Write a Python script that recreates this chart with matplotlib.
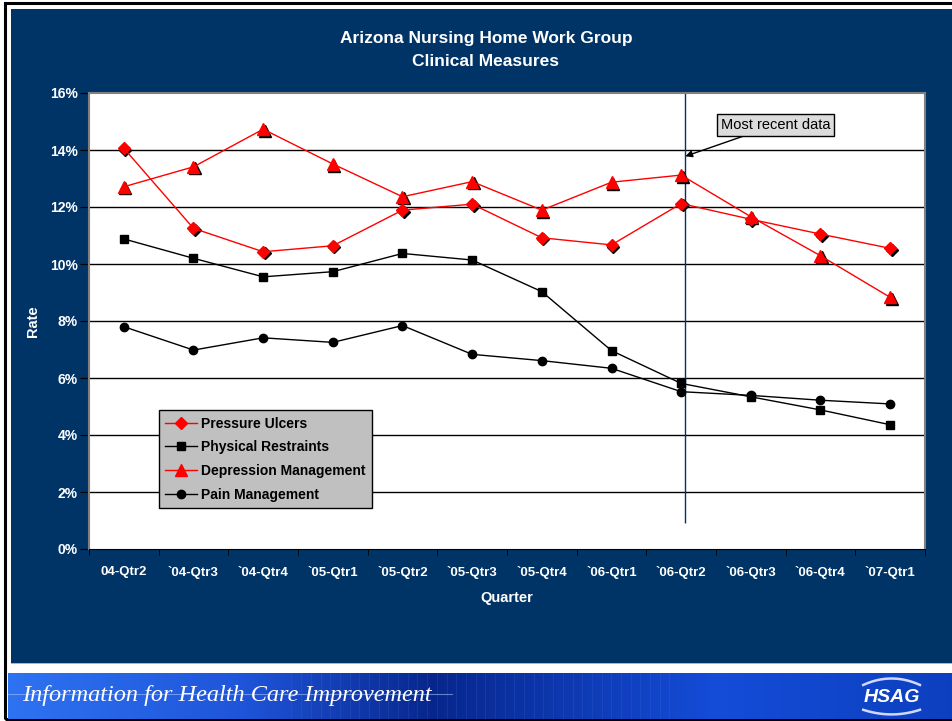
import numpy as np
import matplotlib
matplotlib.use('Agg')
import matplotlib.pyplot as plt
import matplotlib.transforms as mtransforms
from matplotlib.patches import Rectangle

quarters = ["04-Qtr2", "`04-Qtr3", "`04-Qtr4", "`05-Qtr1", "`05-Qtr2", "`05-Qtr3",
            "`05-Qtr4", "`06-Qtr1", "`06-Qtr2", "`06-Qtr3", "`06-Qtr4", "`07-Qtr1"]
pressure_ulcers = [14.06, 11.25, 10.43, 10.64, 11.89, 12.10, 10.92, 10.67, 12.12, 11.57, 11.05, 10.55]
physical_restraints = [10.88, 10.20, 9.55, 9.73, 10.37, 10.14, 9.03, 6.96, 5.81, 5.34, 4.88, 4.36]
depression_mgmt = [12.71, 13.41, 14.73, 13.51, 12.36, 12.89, 11.89, 12.87, 13.12, 11.66, 10.29, 8.83]
pain_mgmt = [7.80, 6.98, 7.41, 7.25, 7.84, 6.83, 6.61, 6.34, 5.52, 5.39, 5.22, 5.09]
y_ticks = [0, 2, 4, 6, 8, 10, 12, 14, 16]

NAVY = '#003366'
W, H = 953, 721
plt.rcParams['font.family'] = ['Liberation Sans', 'DejaVu Sans']


def fx(px):
    return px / W


def fy(py):
    return 1 - py / H


fig = plt.figure(figsize=(W / 100, H / 100), dpi=100, facecolor='white')

# background panel and frame
fig.add_artist(Rectangle((fx(5), fy(719)), fx(960 - 5), (719 - 3) / H, transform=fig.transFigure,
                         facecolor='none', edgecolor='black', lw=2.2, zorder=0))
fig.add_artist(Rectangle((fx(11), fy(663)), fx(960 - 11), (663 - 9) / H, transform=fig.transFigure,
                         facecolor=NAVY, edgecolor='none', zorder=0))
fig.add_artist(Rectangle((fx(11), fy(664)), fx(960 - 11), 1.2 / H, transform=fig.transFigure,
                         facecolor='#9fb8d8', edgecolor='none', zorder=0))

ax = fig.add_axes([fx(89), fy(549), fx(925 - 89), (549 - 93) / H])
ax.set_facecolor('white')
x = np.arange(len(quarters))

for v in y_ticks[1:-1]:
    ax.axhline(v, color='black', lw=1, zorder=1)

shadow = mtransforms.offset_copy(ax.transData, fig=fig, x=1.6, y=-1.6, units='dots')
ax.plot(x, pressure_ulcers, 'D', color='black', ms=6.5, transform=shadow, zorder=3)
ax.plot(x, depression_mgmt, '^', color='black', ms=8, transform=shadow, zorder=3)

ax.plot(x, pressure_ulcers, '-D', color='#ff0000', lw=1, ms=6.5, label='Pressure Ulcers', zorder=4)
ax.plot(x, physical_restraints, '-s', color='black', lw=1, ms=6, label='Physical Restraints', zorder=4)
ax.plot(x, depression_mgmt, '-^', color='#ff0000', lw=1, ms=8, label='Depression Management', zorder=4)
ax.plot(x, pain_mgmt, '-o', color='black', lw=1, ms=6, label='Pain Management', zorder=4)

recent_x = 8.06
ax.vlines(recent_x, 0.9, 16, color=NAVY, lw=1, zorder=2, clip_on=False)
ax.annotate('Most recent data', xy=(recent_x, 13.78), xytext=(8.57, 14.88),
            fontsize=10.5, color='black', ha='left', va='center',
            bbox=dict(boxstyle='square,pad=0.25', facecolor='#dcdcdc', edgecolor='black', lw=1),
            arrowprops=dict(arrowstyle='-|>', color='black', lw=1, shrinkA=0, shrinkB=0,
                            mutation_scale=10), zorder=5)

ax.set_xlim(-0.5, len(quarters) - 0.5)
ax.set_ylim(0, 16)
ax.set_yticks(y_ticks)
ax.set_yticklabels([f'{v}%' for v in y_ticks], color='white', fontsize=10, fontweight='bold')
ax.set_xticks(x)
ax.set_xticklabels(quarters, color='white', fontsize=9.5, fontweight='bold')
ax.set_xticks(np.arange(-0.5, len(quarters)), minor=True)
ax.tick_params(axis='x', which='major', length=0, pad=12)
ax.tick_params(axis='x', which='minor', length=4, color='black', direction='out')
ax.tick_params(axis='y', length=6.5, color='black', direction='out', pad=1.5)
for side in ['top', 'right', 'left']:
    ax.spines[side].set_color('#808080')
    ax.spines[side].set_linewidth(1.5)
ax.spines['bottom'].set_color('black')

ax.set_xlabel('Quarter', color='white', fontsize=10.5, fontweight='bold', labelpad=9)
ax.set_ylabel('Rate', color='white', fontsize=10.5, fontweight='bold', labelpad=7)

leg = ax.legend(loc='lower left', bbox_to_anchor=(0.0837, 0.09), borderaxespad=0,
                fancybox=False, framealpha=1, facecolor='#c0c0c0', edgecolor='black',
                prop=dict(size=10, weight='bold'), handlelength=2.3, labelspacing=0.7,
                handletextpad=0.3, borderpad=0.45)
leg.get_frame().set_linewidth(1)
leg.set_zorder(6)

fig.text(fx(486), fy(38), 'Arizona Nursing Home Work Group', color='white', fontsize=12.5,
         fontweight='bold', ha='center', va='center')
fig.text(fx(486), fy(62), 'Clinical Measures', color='white', fontsize=12.5,
         fontweight='bold', ha='center', va='center')

# footer banner
fax = fig.add_axes([fx(8), fy(719), fx(953 - 8), (719 - 673) / H])
grad = np.linspace(0, 1, 400)
r = np.interp(grad, [0, 0.25, 0.45, 0.75, 1], [0.18, 0.12, 0.03, 0.08, 0.05])
g = np.interp(grad, [0, 0.25, 0.45, 0.75, 1], [0.45, 0.33, 0.15, 0.30, 0.25])
b = np.interp(grad, [0, 0.25, 0.45, 0.75, 1], [0.95, 0.85, 0.55, 0.85, 0.75])
img = np.dstack([r, g, b]).repeat(10, axis=0)
fax.imshow(img, aspect='auto', extent=(0, 1, 0, 1))
for xv in np.linspace(0.3, 0.7, 40):
    fax.axvline(xv, color='#4a7ae0', lw=0.5, alpha=0.25)
fax.plot([0, 0.47], [0.55, 0.55], color='#a0c0ff', lw=0.8, alpha=0.6)
fax.text(0.015, 0.5, 'Information for Health Care Improvement', color='white', fontsize=17.5,
         style='italic', family=['Liberation Serif', 'DejaVu Serif'], ha='left', va='center')
fax.text(0.935, 0.46, 'HSAG', color='white', fontsize=14, fontweight='bold', style='italic',
         ha='center', va='center')
# logo swooshes
sx = np.linspace(0.905, 0.965, 30)
bump = 1 - ((sx - 0.935) / 0.03) ** 2
fax.plot(sx, 0.74 + 0.14 * bump, color='#d0d8ff', lw=1.8)
fax.plot(sx, 0.20 - 0.10 * bump, color='#d0d8ff', lw=1.8)
fax.set_xlim(0, 1)
fax.set_ylim(0, 1)
fax.axis('off')

fig.savefig('out.png', dpi=100, facecolor='white')
